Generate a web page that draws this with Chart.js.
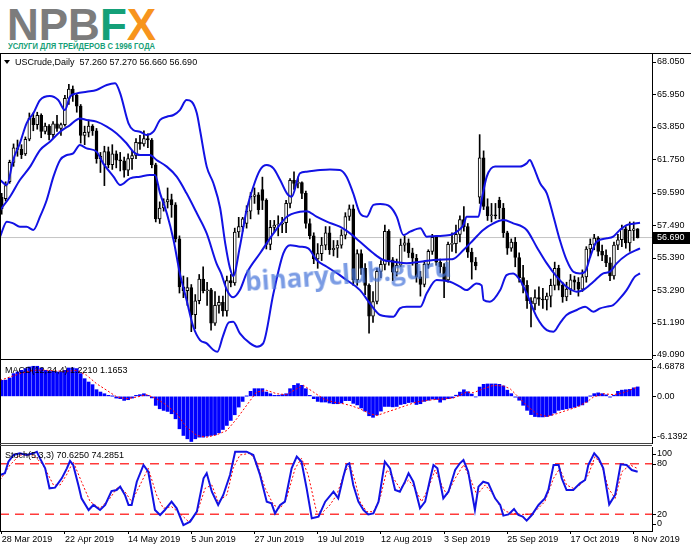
<!DOCTYPE html>
<html>
<head>
<meta charset="utf-8">
<script src="https://cdn.jsdelivr.net/npm/chart.js@4.4.0/dist/chart.umd.min.js"></script>
<style>
  body { margin: 0; width: 691px; height: 549px; background: #fff; position: relative; overflow: hidden;
         font-family: "Liberation Sans", Arial, sans-serif; }
  canvas { position: absolute; left: 0; }
  .abs { position: absolute; white-space: nowrap; }
  .rule { position: absolute; background: #000; }
  #logo { left: 7px; top: 3px; font: bold 44px/44px "Liberation Sans", Arial, sans-serif; }
  #tag { left: 8px; top: 41px; font: bold 9.5px/10px "Liberation Sans", Arial, sans-serif; color: #17a077;
         transform: scaleX(0.8); transform-origin: left top; }
  .lbl { font: 9px/10px "Liberation Sans", Arial, sans-serif; color: #000; }
  #tri { left: 4px; top: 60px; width: 0; height: 0; border-left: 3px solid transparent;
         border-right: 3px solid transparent; border-top: 4px solid #000; }
  #wm { left: 246px; top: 268px; font: bold 26px/26px "Open Sans", "DejaVu Sans", sans-serif;
        color: rgba(72, 118, 218, 0.72); transform: rotate(-4deg); transform-origin: left bottom; }
</style>
</head>
<body>
<div id="logo" class="abs"><span style="color:#7c7c7c">NPB</span><span style="color:#14a078">F</span><span style="color:#f7941d">X</span></div>
<div id="tag" class="abs">УСЛУГИ ДЛЯ ТРЕЙДЕРОВ С 1996 ГОДА</div>

<canvas id="price" width="691" height="305" style="top:54px"></canvas>
<canvas id="macd" width="691" height="84" style="top:360px"></canvas>
<canvas id="stoch" width="691" height="104" style="top:445px"></canvas>

<div class="rule" style="top:53px;left:0;width:691px;height:1px"></div>
<div class="rule" style="top:53px;left:0;width:1px;height:478px"></div>
<div class="rule" style="top:359px;left:0;width:652px;height:1px"></div>
<div class="rule" style="top:443px;left:0;width:652px;height:1px;background:#444"></div>
<div class="rule" style="top:445px;left:0;width:652px;height:1px;background:#444"></div>

<div id="tri" class="abs"></div>
<div class="abs lbl" style="left:15px;top:57px">USCrude,Daily&nbsp;&nbsp;57.260 57.270 56.660 56.690</div>
<div class="abs lbl" style="left:5px;top:365px">MACD(12,24,4) 1.2210 1.1653</div>
<div class="abs lbl" style="left:5px;top:450px">Stoch(5,3,3) 70.6250 74.2851</div>
<div id="wm" class="abs">binaryclub.guru</div>

<script>
// daily bars, 28 Mar 2019 (index 0) .. 11 Nov 2019 (index 161)
const dateTicks = [0, 16, 32, 48, 64, 80, 96, 112, 128, 144, 160];
const dateLabels = ['28 Mar 2019', '22 Apr 2019', '14 May 2019', '5 Jun 2019', '27 Jun 2019',
  '19 Jul 2019', '12 Aug 2019', '3 Sep 2019', '25 Sep 2019', '17 Oct 2019', '8 Nov 2019'];

const opens = [
  59.30, 59.20, 60.30, 61.55, 62.50, 62.40, 62.10, 63.05, 64.40, 64.00,
  64.60, 63.55, 63.90, 63.35, 64.05, 63.75, 64.00, 65.70, 66.30, 65.90,
  65.20, 63.30, 63.50, 63.90, 63.60, 61.80, 61.40, 62.25, 61.40, 62.10,
  61.70, 61.65, 61.05, 61.80, 62.00, 62.85, 62.75, 63.10, 63.00, 61.40,
  57.90, 58.60, 59.00, 59.15, 58.80, 56.60, 53.50, 53.25, 53.45, 51.70,
  52.60, 54.00, 53.25, 53.30, 51.15, 52.30, 52.50, 51.95, 53.90, 53.75,
  57.05, 57.40, 57.60, 58.40, 59.35, 59.45, 59.80, 59.10, 56.25, 57.35,
  57.50, 57.55, 57.65, 58.90, 60.40, 60.20, 60.25, 59.55, 57.60, 56.80,
  55.30, 55.65, 56.20, 57.00, 55.90, 56.00, 56.20, 56.85, 58.05, 58.55,
  53.95, 55.65, 54.70, 53.60, 51.60, 52.55, 54.50, 54.95, 57.10, 55.25,
  54.45, 54.90, 56.20, 56.35, 55.70, 55.35, 54.15, 53.65, 54.95, 55.80,
  56.70, 55.10, 54.80, 53.95, 56.25, 56.30, 56.90, 57.85, 57.40, 55.75,
  55.10, 59.30, 61.85, 58.70, 58.10, 58.15, 59.10, 58.60, 57.00, 56.00,
  56.40, 55.40, 54.10, 53.60, 52.60, 52.40, 52.80, 52.70, 52.65, 52.90,
  53.60, 54.70, 53.60, 52.85, 53.35, 53.95, 53.80, 53.35, 54.15, 55.95,
  56.25, 56.65, 55.80, 55.55, 55.05, 54.20, 56.20, 56.55, 57.25, 56.35,
  57.15, 57.26];
const highs = [
  59.55, 60.30, 61.70, 62.75, 63.00, 62.70, 63.20, 64.75, 64.75, 64.80,
  64.70, 64.10, 64.00, 64.20, 64.60, 64.10, 65.90, 66.60, 66.50, 66.00,
  65.30, 63.90, 64.30, 64.00, 63.75, 62.20, 62.60, 62.55, 62.70, 62.30,
  62.20, 61.90, 62.10, 62.30, 63.10, 63.30, 63.60, 63.40, 63.10, 61.50,
  59.00, 59.20, 59.90, 59.50, 58.95, 56.80, 54.20, 54.10, 53.65, 53.00,
  54.30, 54.80, 53.80, 53.40, 53.20, 52.90, 52.90, 54.20, 54.30, 57.30,
  58.00, 58.00, 58.75, 59.60, 59.90, 59.60, 60.60, 59.20, 57.80, 57.80,
  58.10, 58.00, 59.10, 60.50, 60.95, 60.60, 60.30, 59.70, 57.90, 57.00,
  56.30, 56.70, 57.40, 57.40, 56.50, 56.50, 57.20, 58.30, 58.80, 58.80,
  55.90, 55.90, 55.00, 53.70, 53.20, 54.70, 55.20, 57.50, 57.20, 55.40,
  55.30, 56.60, 56.80, 56.60, 56.00, 55.60, 54.50, 55.10, 55.90, 56.90,
  56.80, 55.30, 55.00, 56.40, 57.00, 57.50, 58.10, 58.70, 57.60, 56.00,
  55.40, 63.35, 62.30, 59.20, 58.90, 58.90, 59.30, 58.90, 57.10, 56.60,
  56.70, 55.70, 54.90, 53.90, 52.80, 53.30, 53.50, 53.40, 53.10, 54.00,
  55.10, 54.90, 53.80, 53.80, 54.30, 54.20, 54.10, 54.60, 56.10, 56.60,
  56.90, 56.75, 56.20, 55.90, 55.40, 56.40, 56.90, 57.50, 57.40, 57.70,
  57.70, 57.27];
const lows = [
  58.20, 59.05, 60.20, 61.30, 61.95, 61.80, 62.00, 62.95, 63.60, 63.70,
  63.15, 63.40, 63.00, 63.10, 63.55, 63.30, 63.90, 65.30, 65.50, 64.80,
  62.80, 62.70, 63.20, 63.30, 61.50, 60.90, 60.05, 61.20, 61.10, 61.20,
  61.00, 60.60, 60.70, 61.10, 61.80, 62.40, 62.60, 62.50, 61.20, 57.70,
  57.60, 58.40, 58.60, 58.00, 56.40, 53.10, 52.80, 52.30, 50.60, 50.80,
  52.40, 53.10, 52.30, 50.70, 51.00, 51.80, 51.60, 51.60, 53.50, 53.60,
  56.70, 57.10, 57.30, 57.90, 58.90, 58.20, 58.50, 55.95, 55.90, 57.00,
  56.80, 57.00, 57.00, 58.60, 59.80, 59.90, 59.20, 57.30, 56.60, 55.00,
  54.70, 55.20, 55.90, 55.60, 55.50, 55.40, 56.00, 56.60, 57.80, 53.60,
  53.60, 54.30, 53.00, 50.50, 51.20, 52.40, 54.10, 54.60, 54.90, 53.90,
  54.20, 54.80, 55.80, 55.40, 54.90, 53.80, 52.90, 53.50, 54.70, 55.60,
  54.90, 54.40, 52.80, 53.80, 55.80, 55.70, 56.40, 57.10, 55.40, 54.00,
  54.60, 58.90, 58.50, 57.80, 57.70, 57.90, 57.90, 56.70, 55.60, 55.80,
  54.80, 53.80, 53.10, 52.10, 50.90, 52.00, 52.30, 52.10, 52.00, 52.20,
  53.30, 53.30, 52.50, 52.60, 53.00, 53.30, 52.90, 53.20, 53.80, 55.40,
  55.90, 55.50, 55.20, 54.80, 53.90, 54.00, 55.90, 56.10, 56.00, 55.80,
  56.50, 56.66];
const closes = [
  58.55, 60.05, 61.55, 62.50, 62.40, 62.05, 63.05, 64.40, 64.00, 64.60,
  63.55, 63.90, 63.35, 64.05, 63.75, 64.00, 65.70, 66.30, 65.90, 65.20,
  63.30, 63.50, 63.90, 63.60, 61.80, 61.95, 62.25, 61.40, 62.10, 61.70,
  61.65, 61.05, 61.80, 62.00, 62.85, 62.75, 63.10, 63.00, 61.40, 57.90,
  58.60, 59.00, 59.15, 58.80, 56.60, 53.50, 53.25, 53.45, 51.70, 52.60,
  54.00, 53.25, 53.30, 51.15, 52.30, 52.50, 51.95, 53.90, 53.75, 57.05,
  57.40, 57.90, 58.40, 59.35, 59.45, 58.50, 59.10, 56.25, 57.35, 57.50,
  57.55, 57.65, 58.90, 60.40, 60.20, 60.25, 59.55, 57.60, 56.80, 55.30,
  55.65, 56.20, 57.00, 55.90, 56.00, 56.20, 56.85, 58.05, 58.55, 53.95,
  55.65, 54.70, 53.60, 51.60, 52.55, 54.50, 54.95, 57.10, 55.25, 54.45,
  54.90, 56.20, 56.35, 55.70, 55.35, 54.15, 53.65, 54.95, 55.80, 56.70,
  55.10, 54.80, 53.95, 56.25, 56.30, 56.90, 57.85, 57.40, 55.75, 55.10,
  54.85, 61.85, 58.70, 58.10, 58.15, 58.10, 58.60, 57.00, 56.00, 56.40,
  55.40, 54.10, 53.60, 52.60, 52.40, 52.80, 52.70, 52.65, 52.90, 53.60,
  54.70, 53.60, 52.85, 53.35, 53.95, 53.80, 53.35, 54.15, 55.95, 56.25,
  56.65, 55.80, 55.55, 55.05, 54.20, 56.20, 56.55, 57.25, 56.35, 57.15,
  57.25, 56.69];

// Bollinger bands as [bar, price]
const bbUpper = [[-0.4,60.41],[1.3,60.09],[2.9,61.71],[4.6,62.79],[6.3,64.08],[8,64.73],[9.7,65.59],[12.2,65.85],
  [14.3,65.59],[16,64.94],[17.3,65.81],[19,66.02],[21.5,66.13],[24,66.24],[26.6,66.56],[28.7,66.67],[30,66.02],
  [32.1,64.08],[33.3,63.65],[35,63.54],[36.7,63.33],[38.4,63.54],[40.1,64.3],[41.8,64.51],[43.5,64.62],[45.1,64.94],
  [46.8,65.59],[48.1,65.48],[49.4,64.73],[50.2,63.65],[51.9,61.28],[53.6,60.2],[55.3,58.6],[56.6,56.3],[57.8,54.7],
  [58.6,54.2],[60.3,56.1],[62,58.47],[63.7,59.98],[65.4,61.06],[67.1,61.38],[68.8,61.17],[70.5,60.41],[72.2,59.55],
  [73.4,59.33],[75.5,60.85],[77.2,60.95],[80.6,61.06],[83.1,61.1],[85.6,61.06],[87.3,60.63],[89,59.55],[90.7,58.26],
  [92.4,58.04],[94.1,58.8],[95.8,58.86],[98.3,58.69],[100,58.04],[101.7,56.85],[103.4,57.07],[106,57.29],[107.6,56.75],
  [110.1,56.79],[113.5,56.85],[115.2,57.07],[116.9,57.5],[117.7,58.04],[120.7,58.04],[121.5,59.12],[122.8,60.63],
  [124.9,61.28],[127.8,61.28],[131.2,61.28],[132.9,61.49],[133.7,61.71],[134.6,61.28],[136.3,60.2],[138,59.55],
  [139.7,58.04],[141.3,56.53],[143,55.24],[144.7,54.48],[146.4,54.37],[147.7,54.48],[149,55.45],[150.6,56.42],
  [153.2,56.64],[154.8,56.75],[156.5,57.18],[158.2,57.5],[160.7,57.61],[161.6,57.65]];
const bbMiddle = [[-0.4,58.47],[2.1,59.33],[4.6,60.41],[7.2,61.28],[9.7,62.35],[12.2,62.89],[14.8,63.54],[17.3,63.97],
  [19.8,64.4],[21.5,64.3],[24,64.19],[26.6,63.87],[29.1,63.43],[31.6,62.79],[33.3,62.25],[35,62.03],[37.5,62.03],
  [39.2,61.71],[41.8,61.28],[44.3,60.63],[46.8,59.55],[49.4,58.26],[51.9,56.96],[54.4,55.0],[55.5,54.4],[57,53.3],
  [58.6,52.82],[60.3,53.29],[62,54.37],[65.4,55.67],[68.8,56.96],[72.2,58.04],[75.5,58.36],[77.2,58.4],[79.7,58.04],
  [82.3,57.72],[85.6,57.39],[88.2,56.96],[90.7,56.42],[94.1,55.67],[96.6,55.24],[99.2,55.13],[102.5,55.02],[106,55.13],
  [109.3,55.24],[113.5,55.28],[114.3,55.3],[116.9,55.88],[119.4,56.53],[121.9,57.18],[124.5,57.61],[127,57.82],
  [129.5,57.61],[132.9,57.18],[135.4,56.1],[138,55.02],[140.5,54.16],[143,53.51],[145.6,53.19],[147.2,53.29],
  [149.8,53.83],[152.3,54.37],[154,54.48],[155.7,55.02],[158.2,55.56],[161.6,55.99]];
const bbLower = [[-0.4,56.75],[1.3,57.72],[2.9,57.61],[4.6,57.39],[6.3,57.39],[8,57.18],[9.7,58.04],[11.4,59.12],
  [13.1,60.63],[14.8,61.71],[16.5,62.03],[18.1,62.14],[19.8,62.68],[21.5,62.46],[24,62.25],[25.7,61.49],[28.3,60.63],
  [30,60.09],[32.5,60.52],[35,60.63],[37.5,60.74],[38.8,60.74],[40.1,59.55],[41.8,58.26],[43.5,56.53],[45.1,54.37],
  [46.8,52.65],[48.5,50.92],[50.2,50.06],[51.9,49.84],[53.6,49.41],[54.6,49.3],[56,50.3],[57.5,51.2],[58.6,51.24],
  [60.3,50.49],[62.9,49.84],[64.6,49.63],[66.2,49.84],[68.8,53.08],[71.3,55.67],[73,56.2],[75.5,56.1],[77.6,55.99],
  [79.7,55.24],[82.3,54.8],[85.6,54.26],[87.3,53.94],[90.7,53.29],[93.2,52.43],[95.8,51.68],[99.2,51.57],[100.8,52.11],
  [102.5,52.22],[106,52.22],[107.6,53.08],[110.1,53.94],[113.5,53.83],[116,53.51],[117.7,53.29],[120.2,53.72],
  [121.5,53.6],[122,52.65],[123.6,52.54],[126.2,53.29],[127.8,54.26],[129.5,54.37],[131.2,53.94],[132.9,53.08],
  [135.4,51.57],[138,50.7],[139.7,50.6],[141.3,51.14],[143,51.68],[145.6,52],[147.7,52.22],[149.8,51.89],[151.5,52.11],
  [153.2,52.22],[154.8,52.32],[156.5,52.75],[158.2,53.29],[160.3,54.16],[161.6,54.37]];

const macdHist = [
  2.07, 2.10, 2.37, 2.93, 3.15, 3.36, 3.58, 3.79, 3.88, 3.88,
  3.66, 3.36, 3.23, 3.23, 3.15, 3.15, 3.36, 3.66, 3.66, 3.58,
  2.93, 2.28, 1.85, 1.51, 0.86, 0.56, 0.34, 0.13, 0.02, -0.22,
  -0.30, -0.52, -0.43, -0.22, 0.13, 0.22, 0.34, 0.13, -0.20, -1.16,
  -1.60, -1.81, -1.94, -2.24, -2.89, -4.18, -5.04, -5.47, -5.82, -5.47,
  -5.26, -5.26, -5.13, -5.04, -4.96, -4.70, -4.27, -3.75, -3.10, -2.37,
  -1.38, -0.65, 0.02, 0.65, 0.99, 0.99, 0.99, 0.56, 0.34, 0.13,
  0.13, 0.22, 0.34, 0.99, 1.42, 1.64, 1.42, 0.99, 0.13, -0.30,
  -0.65, -0.73, -0.73, -0.86, -0.95, -0.95, -0.86, -0.55, -0.55, -0.90,
  -1.10, -1.50, -1.90, -2.50, -2.70, -2.40, -1.90, -1.30, -1.30, -1.35,
  -1.30, -1.05, -0.95, -0.80, -0.75, -1.05, -0.95, -0.65, -0.50, -0.35,
  -0.40, -0.75, -0.45, -0.30, -0.20, 0.15, 0.55, 0.85, 0.60, 0.30,
  -0.08, 1.20, 1.55, 1.60, 1.60, 1.60, 1.55, 1.35, 0.80, 0.35,
  -0.10, -0.50, -1.15, -1.80, -2.35, -2.60, -2.65, -2.65, -2.60, -2.45,
  -2.15, -1.80, -1.70, -1.60, -1.50, -1.40, -1.25, -1.10, -0.75, 0.02,
  0.35, 0.45, 0.35, 0.20, -0.10, 0.15, 0.65, 0.80, 0.85, 0.90,
  1.10, 1.22];
const macdSignal = [[-0.4,2.07],[2.1,2.5],[4.6,2.93],[8,3.36],[10.5,3.4],[13.1,3.3],[16.4,3.23],[19,3.36],[21.5,2.72],
  [24,1.64],[26.6,0.78],[29.1,-0.05],[31.6,-0.3],[34.2,-0.09],[36.7,0.22],[39.2,-0.3],[41.8,-1.16],[44.3,-2.24],
  [46.8,-3.97],[49.4,-5.04],[51.9,-5.26],[54.4,-4.96],[57,-4.4],[59.5,-2.89],[62,-1.16],[64.5,0.56],[67.1,0.78],
  [69.6,0.34],[72.1,0.22],[74.7,0.99],[76.4,1.42],[78.9,0.56],[81.4,-0.3],[83.9,-0.73],[86.5,-0.95],[88.2,-1.16],
  [90.7,-1.6],[93.2,-2.24],[95,-2.46],[97.5,-2.03],[100,-1.6],[102.5,-1.16],[105,-0.73],[107.6,-0.52],[110.1,-0.39],
  [112.6,-0.3],[114.3,-0.22],[116,0.13],[117.7,0.56],[119.4,0.47],[122,0.99],[124.5,1.42],[127,1.34],[128.7,0.99],
  [130.4,0.13],[132.9,-1.16],[135.4,-2.24],[138,-2.59],[140.5,-2.24],[143,-1.81],[145.6,-1.38],[148.1,-0.73],
  [149.8,-0.09],[152.3,0.34],[154.9,0.22],[157.4,0.47],[159.9,0.99],[161,1.17]];

const stochMain = [[-0.4,66.7],[0.8,68.7],[1.7,82.5],[3,90.5],[4.6,92.5],[6.3,90.5],[8,92.5],[8.9,94.4],[9.7,86.5],
  [11,74.6],[12.1,50.8],[13.5,51.6],[15.2,62.7],[16.5,74.6],[17.3,83.3],[18.1,78.6],[19.4,54.8],[20.2,38.9],[22,25],
  [23.2,31],[24.9,25],[26.2,31],[27.8,47.6],[29.1,48.8],[30,52.8],[31.2,42.9],[32.1,31],[32.9,31],[34.2,58.7],
  [35.9,78.6],[37.1,70.6],[38.8,25],[40.1,19],[41.3,25],[43,34.9],[44.3,27],[46,7.1],[47.7,11.1],[49.4,23],[51.1,62.7],
  [51.9,68.7],[53.2,46.8],[54.8,31],[56.1,42.9],[57.8,66.7],[59.1,94.4],[62,94.4],[63.7,90.5],[65.4,66.7],[67.1,34.9],
  [68.3,32.9],[69.2,21],[70.5,31],[71.7,34.9],[73.4,74.6],[74.7,88.5],[75.9,82.5],[77.2,50.8],[78.5,15.1],[80.2,17.1],
  [81.9,34.9],[84,46.8],[85.2,38.9],[86.5,65],[87.3,78.6],[88,80.6],[89,54.8],[90.3,34.9],[91.6,25],[92.8,19.8],
  [94.1,21],[95.4,34.9],[96.2,58.7],[97,82.5],[98.3,74.6],[99.6,48.8],[100.8,46.8],[102.1,58.7],[103,68.7],
  [104.2,58.7],[105.9,27],[107.2,34.9],[108.4,60.7],[109.3,78.6],[110.3,74.6],[111.8,38.9],[113.1,46.8],[114.8,72.6],
  [116,80.6],[116.9,84.5],[118.1,70.6],[119.8,25],[120.7,52.8],[121.9,58.7],[123.2,56.7],[124.9,38.9],[126.2,31],
  [127,18.3],[128.3,19.8],[129.7,26.2],[130.8,19],[131.9,17.1],[132.9,12.3],[134.2,19],[135.9,31],[137.5,38.9],
  [138.4,48.8],[139.7,78.6],[141,78.6],[141.8,62.7],[143,48.8],[144.7,48.8],[146.4,56.7],[147.7,60.7],[148.5,78.6],
  [150,92.5],[151.1,86.5],[152.3,74.6],[153.8,31.7],[155.3,42.9],[156.7,79.4],[158.2,78.6],[159.5,72.6],[161,70.6]];
const stochSignal = [[-0.4,60.7],[2.1,78.6],[4.6,90.5],[8,90.5],[10.5,78.6],[13.1,54.8],[14.8,54.8],[16.4,66.7],
  [18.1,82.5],[20.2,58.7],[22.4,34.9],[24.9,27],[27.4,38.9],[29.5,52.8],[31.2,46.8],[32.9,34.9],[34.6,50.8],
  [37.1,74.6],[39.2,42.9],[40.9,27],[43,29],[45.1,21],[47.3,11.1],[49.4,21],[51.5,50.8],[53.2,54.8],[54.8,34.9],
  [57,42.9],[58.6,74.6],[60.3,90.5],[62.9,92.5],[64.5,82.5],[66.7,50.8],[68.8,31],[70.5,27],[72.1,38.9],[74.3,74.6],
  [75.9,86.5],[77.6,66.7],[79.7,23],[81.4,23],[83.1,31],[84.8,42.9],[86.9,70.6],[88.2,78.6],[89.5,58.7],[90.7,34.9],
  [92.4,23],[94.1,23],[95.8,38.9],[97.5,72.6],[99.2,62.7],[100.8,50.8],[103,60.7],[104.6,50.8],[106.3,34.9],[108,50.8],
  [109.7,72.6],[111.4,54.8],[112.7,42.9],[114.8,62.7],[116.9,78.6],[118.6,62.7],[120.3,42.9],[122.4,54.8],[124.5,42.9],
  [126.2,29],[127.8,23],[129.5,21],[131.6,19.8],[133.8,19.8],[135.4,25],[137.5,34.9],[139.7,62.7],[141.3,74.6],
  [143,54.8],[144.7,50.8],[146.4,54.8],[148.5,66.7],[150.2,88.5],[151.9,78.6],[153.6,50.8],[155.3,38.9],[157,70.6],
  [159.1,78.6],[161,74.3]];
const stochLevels = [80, 20];

const priceTicks = [68.05, 65.95, 63.85, 61.75, 59.59, 57.49, 55.39, 53.29, 51.19, 49.09];
const macdTicks = [4.6878, 0, -6.1392];
const macdTickLabels = ['4.6878', '0.00', '-6.1392'];
const stochTicks = [100, 80, 20, 0];

// ---- drawing ----
const FONT = "'Liberation Sans', Arial, sans-serif";
const BLUE = '#1212e4';
const xMin = -0.43, xMax = 164.63;
const last = closes.length - 1;
const pts = arr => arr.map(p => ({ x: p[0], y: p[1] }));

// right-hand price scale labels like the terminal draws them
const axisLabels = {
  id: 'axisLabels',
  afterDraw(chart, args, opts) {
    const { ctx, chartArea } = chart;
    const y = chart.scales.y;
    ctx.save();
    ctx.font = '9px ' + FONT;
    ctx.fillStyle = '#000';
    ctx.strokeStyle = '#000';
    ctx.lineWidth = 1;
    ctx.textBaseline = 'middle';
    opts.values.forEach((v, k) => {
      let py = y.getPixelForValue(v);
      py = Math.min(Math.max(py, chartArea.top + opts.inset), chartArea.bottom - opts.inset);
      const ly = Math.round(py) + 0.5;
      ctx.beginPath();
      ctx.moveTo(chartArea.right, ly);
      ctx.lineTo(chartArea.right + 4, ly);
      ctx.stroke();
      ctx.fillText(opts.labels[k], chartArea.right + 5, py);
    });
    ctx.restore();
  }
};

const priceTag = {
  id: 'priceTag',
  afterDraw(chart, args, opts) {
    const { ctx, chartArea } = chart;
    const py = chart.scales.y.getPixelForValue(opts.value);
    ctx.save();
    ctx.fillStyle = '#000';
    ctx.fillRect(chartArea.right + 1, Math.round(py) - 6, 37, 12);
    ctx.font = '9px ' + FONT;
    ctx.fillStyle = '#fff';
    ctx.textBaseline = 'middle';
    ctx.fillText(opts.text, chartArea.right + 5, py);
    ctx.restore();
  }
};

function rightAxis(min, max) {
  return {
    position: 'right', min, max,
    afterFit: s => { s.width = 39; },
    ticks: { display: false },
    grid: { drawOnChartArea: false, drawTicks: false },
    border: { display: true, color: '#000', width: 1 }
  };
}
const hiddenX = { type: 'linear', min: xMin, max: xMax, offset: false, display: false };
const base = {
  responsive: false,
  animation: false,
  events: [],
  plugins: { legend: { display: false }, tooltip: { enabled: false } }
};

new Chart(document.getElementById('price'), {
  type: 'bar',
  data: {
    datasets: [
      { type: 'line', data: pts(bbUpper), borderColor: BLUE, borderWidth: 2, pointRadius: 0, cubicInterpolationMode: 'monotone', order: 0 },
      { type: 'line', data: pts(bbMiddle), borderColor: BLUE, borderWidth: 2, pointRadius: 0, cubicInterpolationMode: 'monotone', order: 0 },
      { type: 'line', data: pts(bbLower), borderColor: BLUE, borderWidth: 2, pointRadius: 0, cubicInterpolationMode: 'monotone', order: 0 },
      { data: opens.map((o, i) => ({ x: i, y: [o, closes[i]] })),
        backgroundColor: opens.map((o, i) => closes[i] >= o ? '#fff' : '#000'),
        borderColor: '#000', borderWidth: 1, borderSkipped: false,
        barThickness: 3, minBarLength: 1, grouped: false, order: 1 },
      { data: lows.map((l, i) => ({ x: i, y: [l, highs[i]] })),
        backgroundColor: '#000', borderWidth: 0, barThickness: 1, grouped: false, order: 2 },
      { type: 'line', data: [{ x: xMin, y: closes[last] }, { x: xMax, y: closes[last] }],
        borderColor: '#c4c4c4', borderWidth: 1, pointRadius: 0, order: 3 }
    ]
  },
  options: {
    ...base,
    layout: { padding: 0 },
    scales: { x: hiddenX, y: rightAxis(48.831, 68.568) },
    plugins: {
      ...base.plugins,
      axisLabels: { values: priceTicks, labels: priceTicks.map(v => v.toFixed(3)), inset: 0 },
      priceTag: { value: closes[last], text: closes[last].toFixed(3) }
    }
  },
  plugins: [axisLabels, priceTag]
});

new Chart(document.getElementById('macd'), {
  type: 'bar',
  data: {
    datasets: [
      { type: 'line', data: pts(macdSignal), borderColor: '#ff0000', borderWidth: 1, borderDash: [2, 2],
        pointRadius: 0, order: 0 },
      { data: macdHist.map((v, i) => ({ x: i, y: v })), backgroundColor: '#0000ff',
        barThickness: 3, grouped: false, order: 1 }
    ]
  },
  options: {
    ...base,
    layout: { padding: 0 },
    scales: { x: hiddenX, y: rightAxis(-6.1392, 4.6878) },
    plugins: { ...base.plugins, axisLabels: { values: macdTicks, labels: macdTickLabels, inset: 7 } }
  },
  plugins: [axisLabels]
});

new Chart(document.getElementById('stoch'), {
  type: 'line',
  data: {
    datasets: [
      { data: pts(stochMain), borderColor: BLUE, borderWidth: 2, pointRadius: 0, tension: 0, order: 0 },
      { data: pts(stochSignal), borderColor: '#ff0000', borderWidth: 1, borderDash: [2, 2], pointRadius: 0, tension: 0, order: 1 },
      ...stochLevels.map(v => ({
        data: [{ x: xMin, y: v }, { x: xMax, y: v }], borderColor: '#ff3b3b', borderWidth: 1.5,
        borderDash: [9, 6], pointRadius: 0, order: 2
      }))
    ]
  },
  options: {
    ...base,
    layout: { padding: { top: 2 } },
    scales: {
      x: {
        type: 'linear', min: xMin, max: xMax, offset: false,
        afterFit: s => { s.height = 18; },
        afterBuildTicks: s => { s.ticks = dateTicks.map(v => ({ value: v })); },
        ticks: { autoSkip: false, maxRotation: 0, align: 'start', padding: 0, color: '#000',
                 font: { family: FONT, size: 9 }, callback: (v, k) => dateLabels[k] },
        grid: { drawOnChartArea: false, drawTicks: true, tickLength: 3, color: '#000' },
        border: { display: true, color: '#000' }
      },
      y: rightAxis(0, 100)
    },
    plugins: { ...base.plugins, axisLabels: { values: stochTicks, labels: stochTicks.map(String), inset: 7 } }
  },
  plugins: [axisLabels]
});
</script>
</body>
</html>
